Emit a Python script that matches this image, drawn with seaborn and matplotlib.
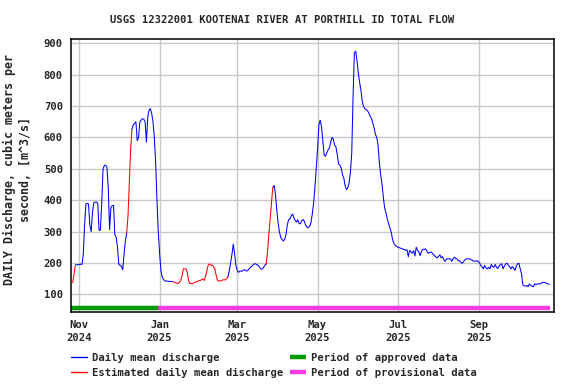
import numpy as np
import pandas as pd
import matplotlib
matplotlib.use("Agg")
import matplotlib.pyplot as plt
import seaborn as sns
from matplotlib.lines import Line2D

# daily mean discharge, m^3/s, one value per day from first_day
first_day = "2024-10-27"
flow = [
    137, 165, 193, 194, 195, 195, 196, 195, 225, 320,
    388, 390, 388, 320, 300, 360, 392, 394, 394, 390,
    304, 304, 387, 498, 511, 511, 505, 439, 306, 376,
    383, 383, 290, 281, 250, 196, 192, 189, 178, 228,
    270, 295, 350, 456, 562, 626, 640, 645, 650, 590,
    600, 650, 655, 660, 658, 650, 585, 665, 687, 692,
    676, 650, 600, 520, 400, 300, 230, 175, 155, 147,
    143, 142, 142, 141, 141, 141, 141, 139, 137, 136,
    134, 138, 144, 157, 181, 181, 181, 170, 144, 134,
    134, 134, 136, 139, 139, 141, 144, 144, 147, 149,
    144, 160, 176, 194, 197, 192, 193, 188, 181, 160,
    144, 142, 143, 143, 146, 146, 146, 150, 157, 176,
    202, 228, 260, 228, 192, 176, 170, 174, 174, 174,
    178, 178, 174, 176, 181, 186, 189, 194, 197, 197,
    194, 192, 186, 181, 180, 186, 192, 197, 234, 292,
    340, 390, 440, 447, 420, 370, 330, 300, 282, 275,
    270, 275, 290, 320, 338, 340, 350, 356, 345, 335,
    330, 338, 325, 325, 335, 338, 333, 320, 314, 312,
    317, 328, 355, 390, 440, 500, 560, 640, 655, 636,
    590, 545, 540, 551, 560, 567, 585, 600, 595, 575,
    570, 545, 515, 512, 503, 480, 470, 445, 434, 440,
    455, 490, 550, 730, 870, 875, 845, 805, 775, 750,
    715, 698, 692, 689, 685, 678, 668, 660, 645, 630,
    610, 600, 575, 520, 480, 450, 410, 375, 360, 340,
    325, 312, 298, 275, 262, 256, 253, 250, 249, 247,
    246, 243, 243, 240, 242, 220, 240, 235, 231, 239,
    222, 250, 240, 235, 223, 237, 243, 243, 245, 239,
    231, 233, 235, 232, 227, 223, 219, 216, 221, 226,
    216, 220, 210, 205, 213, 213, 213, 213, 205, 213,
    218, 214, 213, 207, 207, 201, 199, 204, 210, 213,
    213, 213, 212, 210, 207, 206, 205, 207, 205, 201,
    192, 188, 181, 192, 184, 181, 186, 181, 195, 188,
    186, 195, 186, 182, 190, 195, 197, 181, 190, 197,
    199, 192, 188, 181, 188, 183, 176, 189, 197, 199,
    181, 165, 130, 127, 126, 128, 124, 133, 128, 126,
    124, 133, 131, 133, 133, 133, 135, 138, 138, 137,
    135, 133, 132,
]

# estimated-value periods (red)
est_start = ["2024-10-27", "2024-12-07", "2025-01-11", "2025-03-23"]
est_end = ["2024-10-29", "2024-12-11", "2025-02-22", "2025-03-28"]

# data approval periods
period_names = ["approved", "provisional"]
period_start = ["2024-10-26", "2024-12-31"]
period_end = ["2024-12-31", "2025-10-25"]

tick_dates = ["2024-11-01", "2025-01-01", "2025-03-01", "2025-05-01", "2025-07-01", "2025-09-01"]
tick_labels = ["Nov\n2024", "Jan\n2025", "Mar\n2025", "May\n2025", "Jul\n2025", "Sep\n2025"]
y_ticks = [100, 200, 300, 400, 500, 600, 700, 800, 900]

sns.set_theme(style="white")
plt.rcParams["font.family"] = ["DejaVu Sans Mono"]
plt.rcParams["font.weight"] = "bold"

df = pd.DataFrame({"date": pd.date_range(first_day, periods=len(flow), freq="D"), "flow": flow})
df["seg"] = -1
for i, (a, b) in enumerate(zip(est_start, est_end)):
    df.loc[(df["date"] >= a) & (df["date"] <= b), "seg"] = i
est = df[df["seg"] >= 0]

# blue pieces: the day-to-day steps that are not inside an estimated period
red_step = (df["seg"].shift() == df["seg"]) & (df["seg"] >= 0)
blue_step = ~red_step
blue_step.iloc[0] = False
run = (blue_step != blue_step.shift()).cumsum()
parts = []
for r, g in df[blue_step].groupby(run[blue_step]):
    parts.append(df.loc[g.index.min() - 1:g.index.max()].assign(run=r))
blue = pd.concat(parts)

periods = pd.DataFrame({
    "date": pd.to_datetime(period_start + period_end),
    "period": period_names + period_names,
})
periods["level"] = 57

fig = plt.figure(figsize=(5.76, 3.84), dpi=100)
ax = fig.add_axes([0.1238, 0.1883, 0.8385, 0.7094])

sns.lineplot(data=blue, x="date", y="flow", units="run", estimator=None, color="blue",
             lw=0.75, ax=ax)
sns.lineplot(data=est, x="date", y="flow", units="seg", estimator=None, color="red",
             lw=0.75, ax=ax)
sns.lineplot(data=periods, x="date", y="level", hue="period", units="period", estimator=None,
             palette={"approved": "#009900", "provisional": "#f23ce0"}, lw=3.2,
             solid_capstyle="butt", legend=False, ax=ax)

ax.set_xlim(pd.Timestamp("2024-10-25 22:00"), pd.Timestamp("2025-10-27 21:30"))
ax.set_ylim(44.5, 913)
ax.set_xticks(pd.to_datetime(tick_dates))
ax.set_xticklabels(tick_labels, fontsize=7.6, fontweight="bold", linespacing=1.4)
ax.set_yticks(y_ticks)
ax.set_yticklabels([str(v) for v in y_ticks], fontsize=7.6, fontweight="bold")
ax.tick_params(length=0, pad=6)
ax.grid(True, color="#c8c8c8", lw=1.0)
ax.set_axisbelow(True)
ax.set_xlabel("")
ax.set_ylabel("")
for s in ax.spines.values():
    s.set_color("black")
    s.set_linewidth(1.1)

fig.text(0.49, 0.949, "USGS 12322001 KOOTENAI RIVER AT PORTHILL ID TOTAL FLOW",
         ha="center", va="center", fontsize=7.6, fontweight="bold")
fig.text(0.0304, 0.559, "DAILY Discharge, cubic meters per\nsecond, [m^3/s]",
         rotation=90, ha="center", va="center", multialignment="center",
         fontsize=8.4, fontweight="bold", linespacing=1.3)

handles = [
    Line2D([], [], color="blue", lw=1),
    Line2D([], [], color="red", lw=1),
    Line2D([], [], color="#009900", lw=3.2, solid_capstyle="butt"),
    Line2D([], [], color="#f23ce0", lw=3.2, solid_capstyle="butt"),
]
labels = ["Daily mean discharge", "Estimated daily mean discharge",
          "Period of approved data", "Period of provisional data"]
fig.legend(handles, labels, loc="upper left", bbox_to_anchor=(71 / 576, 1 - 352.5 / 384),
           ncol=2, frameon=False, fontsize=7.6, handlelength=1.5, handletextpad=0.5,
           columnspacing=0.6, labelspacing=0.5, borderpad=0, borderaxespad=0)

fig.savefig("out.png", dpi=100)
